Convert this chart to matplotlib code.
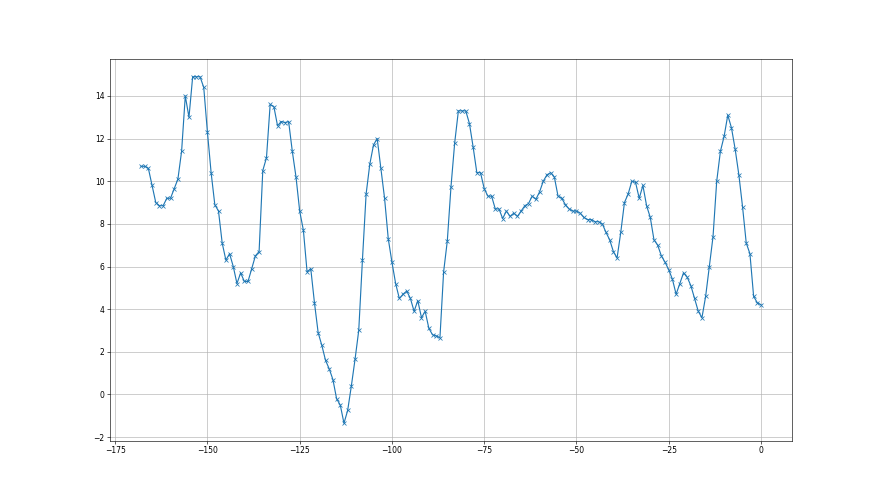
import numpy as np
import matplotlib
matplotlib.use('Agg')
import matplotlib.pyplot as plt

# x positions run from -168 up to 0, one step per sample
x_start = -168
values = [
    10.7, 10.7, 10.6, 9.8, 9.0, 8.85, 8.85, 9.2, 9.2, 9.65,      # -168 .. -159
    10.1, 11.4, 14.0, 13.0, 14.9, 14.9, 14.9, 14.4, 12.3, 10.4,  # -158 .. -149
    8.9, 8.6, 7.1, 6.3, 6.6, 6.0, 5.2, 5.7, 5.3, 5.3,            # -148 .. -139
    5.9, 6.5, 6.7, 10.5, 11.1, 13.6, 13.5, 12.6, 12.8, 12.75,    # -138 .. -129
    12.8, 11.4, 10.2, 8.6, 7.7, 5.75, 5.9, 4.3, 2.9, 2.3,        # -128 .. -119
    1.6, 1.2, 0.7, -0.2, -0.5, -1.35, -0.75, 0.4, 1.65, 3.0,     # -118 .. -109
    6.3, 9.4, 10.8, 11.7, 12.0, 10.6, 9.2, 7.3, 6.2, 5.2,        # -108 .. -99
    4.5, 4.7, 4.85, 4.5, 3.9, 4.4, 3.6, 3.9, 3.1, 2.8,           # -98 .. -89
    2.75, 2.65, 5.75, 7.2, 9.75, 11.8, 13.3, 13.3, 13.3, 12.7,   # -88 .. -79
    11.6, 10.4, 10.4, 9.65, 9.3, 9.3, 8.7, 8.7, 8.25, 8.6,       # -78 .. -69
    8.35, 8.5, 8.35, 8.6, 8.85, 8.95, 9.3, 9.15, 9.5, 10.0,      # -68 .. -59
    10.3, 10.4, 10.2, 9.3, 9.2, 8.9, 8.7, 8.6, 8.6, 8.5,         # -58 .. -49
    8.3, 8.2, 8.2, 8.1, 8.1, 8.0, 7.6, 7.25, 6.7, 6.4,           # -48 .. -39
    7.6, 9.0, 9.4, 10.0, 9.95, 9.2, 9.8, 8.85, 8.3, 7.25,        # -38 .. -29
    7.0, 6.5, 6.2, 5.85, 5.4, 4.7, 5.2, 5.7, 5.5, 5.1,           # -28 .. -19
    4.5, 3.9, 3.6, 4.6, 6.0, 7.4, 10.0, 11.4, 12.1, 13.1,        # -18 .. -9
    12.5, 11.5, 10.3, 8.8, 7.1, 6.6, 4.6, 4.3, 4.2,              # -8 .. 0
]
x = np.arange(x_start, x_start + len(values))

fig, ax = plt.subplots(figsize=(16, 9), dpi=55)
ax.plot(x, values, marker='x')
ax.grid(True)

plt.savefig('out.png')
